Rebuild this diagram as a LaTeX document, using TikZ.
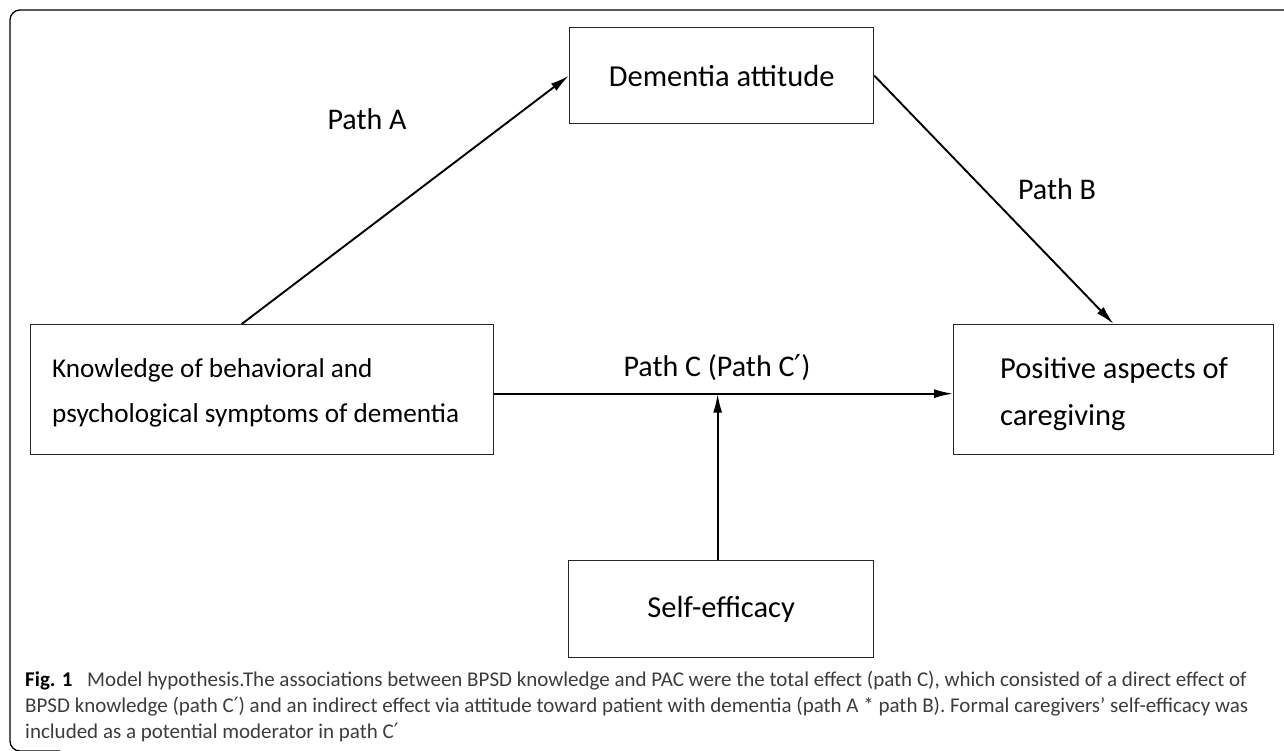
\documentclass[tikz,border=0pt]{standalone}
\usepackage{fontspec}
\setmainfont{Carlito}
\newfontfamily\primefont{DejaVu Sans}
\newcommand{\prm}{{\primefont ′}}
\usetikzlibrary{arrows.meta,calc}
\definecolor{captiongray}{HTML}{3C3C3C}
\begin{document}
\begin{tikzpicture}[x=1pt,y=-1pt,
  box/.style={draw=black!85, line width=1.3pt, inner sep=0pt, anchor=north west},
  conn/.style={line width=1.9pt, -{Latex[length=19pt,width=9pt]}},
  big/.style={font=\fontsize{30.5}{30.5}\selectfont},
  mid/.style={font=\fontsize{27.2}{27.2}\selectfont, inner sep=0pt},
  lbl/.style={font=\fontsize{30}{30}\selectfont, inner sep=0pt, anchor=base},
  captxt/.style={font=\fontsize{21}{21}\selectfont, inner sep=0pt, anchor=base west, text=captiongray},
]
\useasboundingbox (0,0) rectangle (1284,751);
\draw[line width=1.3pt, rounded corners=10pt] (1300,10) -- (10,10) -- (10,751) -- (60,751);

\node[box, big, minimum width=304pt, minimum height=96pt] (att) at (569,27) {Dementia attitude};
\node[box, minimum width=463pt, minimum height=130pt] (know) at (30,324) {};
\node[box, minimum width=320pt, minimum height=130pt] (pos) at (953,324) {};
\node[box, big, minimum width=305pt, minimum height=97pt] (self) at (568,560) {Self-efficacy};

\node[mid, anchor=base west] (know1) at (52,377) {Knowledge of behavioral and};
\node[mid, anchor=base west] (know2) at (52,422) {psychological symptoms of dementia};
\node[big, inner sep=0pt, anchor=base west] (pos1) at (1000,378) {Positive aspects of};
\node[big, inner sep=0pt, anchor=base west] (pos2) at (1000,425) {caregiving};

\coordinate (aS) at ($(know.north west)!0.456!(know.north east)$);
\coordinate (cS) at ([yshift=-4pt]know.east);
\coordinate (cE) at ([yshift=-4pt]pos.west);
\coordinate (vS) at ([xshift=-3.5pt]self.north);

\draw[conn] (aS) -- (att.west);
\draw[conn] (att.east) -- (pos.north);
\draw[conn] (cS) -- (cE);
\draw[conn] (vS) -- (vS |- cS);

\node[lbl] (la) at (367,130) {Path A};
\node[lbl] (lb) at (1057,200) {Path B};
\node[lbl] (lc) at (717,376) {Path C (Path C\prm)};

\node[captxt] (c1) at (25,686) {\textbf{\color{black}Fig. 1}\hspace{0.7em}Model hypothesis.The associations between BPSD knowledge and PAC were the total effect (path C), which consisted of a direct effect of};
\node[captxt] (c2) at (25,712) {BPSD knowledge (path C\prm) and an indirect effect via attitude toward patient with dementia (path A * path B). Formal caregivers’ self-efficacy was};
\node[captxt] (c3) at (25,738) {included as a potential moderator in path C\prm};
\end{tikzpicture}
\end{document}
